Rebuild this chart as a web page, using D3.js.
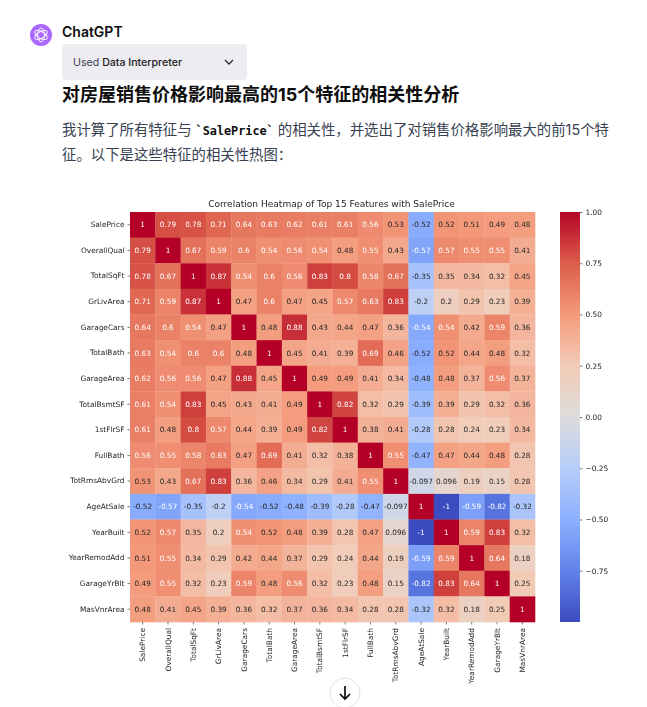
<!DOCTYPE html>
<html>
<head>
<meta charset="utf-8">
<script src="https://cdnjs.cloudflare.com/ajax/libs/d3/7.8.5/d3.min.js"></script>
<style>
html, body { margin: 0; padding: 0; background: #fff; overflow: hidden; }
svg { display: block; }
.mpl text { font-family: "DejaVu Sans", sans-serif; fill: #262626; }
.page { font-family: Inter, "Noto Sans CJK SC", sans-serif; }
</style>
</head>
<body>
<svg id="chart" width="647" height="707"></svg>
<script>
// feature names, same order on both axes
var features = ['SalePrice', 'OverallQual', 'TotalSqFt', 'GrLivArea', 'GarageCars', 'TotalBath', 'GarageArea',
	'TotalBsmtSF', '1stFlrSF', 'FullBath', 'TotRmsAbvGrd', 'AgeAtSale', 'YearBuilt', 'YearRemodAdd', 'GarageYrBlt', 'MasVnrArea'];

var salePrice    = [1, 0.79, 0.78, 0.71, 0.64, 0.63, 0.62, 0.61, 0.61, 0.56, 0.53, -0.52, 0.52, 0.51, 0.49, 0.48];
var overallQual  = [0.79, 1, 0.67, 0.59, 0.6, 0.54, 0.56, 0.54, 0.48, 0.55, 0.43, -0.57, 0.57, 0.55, 0.55, 0.41];
var totalSqFt    = [0.78, 0.67, 1, 0.87, 0.54, 0.6, 0.56, 0.83, 0.8, 0.58, 0.67, -0.35, 0.35, 0.34, 0.32, 0.45];
var grLivArea    = [0.71, 0.59, 0.87, 1, 0.47, 0.6, 0.47, 0.45, 0.57, 0.63, 0.83, -0.2, 0.2, 0.29, 0.23, 0.39];
var garageCars   = [0.64, 0.6, 0.54, 0.47, 1, 0.48, 0.88, 0.43, 0.44, 0.47, 0.36, -0.54, 0.54, 0.42, 0.59, 0.36];
var totalBath    = [0.63, 0.54, 0.6, 0.6, 0.48, 1, 0.45, 0.41, 0.39, 0.69, 0.46, -0.52, 0.52, 0.44, 0.48, 0.32];
var garageArea   = [0.62, 0.56, 0.56, 0.47, 0.88, 0.45, 1, 0.49, 0.49, 0.41, 0.34, -0.48, 0.48, 0.37, 0.56, 0.37];
var totalBsmtSF  = [0.61, 0.54, 0.83, 0.45, 0.43, 0.41, 0.49, 1, 0.82, 0.32, 0.29, -0.39, 0.39, 0.29, 0.32, 0.36];
var firstFlrSF   = [0.61, 0.48, 0.8, 0.57, 0.44, 0.39, 0.49, 0.82, 1, 0.38, 0.41, -0.28, 0.28, 0.24, 0.23, 0.34];
var fullBath     = [0.56, 0.55, 0.58, 0.63, 0.47, 0.69, 0.41, 0.32, 0.38, 1, 0.55, -0.47, 0.47, 0.44, 0.48, 0.28];
var totRmsAbvGrd = [0.53, 0.43, 0.67, 0.83, 0.36, 0.46, 0.34, 0.29, 0.41, 0.55, 1, -0.097, 0.096, 0.19, 0.15, 0.28];
var ageAtSale    = [-0.52, -0.57, -0.35, -0.2, -0.54, -0.52, -0.48, -0.39, -0.28, -0.47, -0.097, 1, -1, -0.59, -0.82, -0.32];
var yearBuilt    = [0.52, 0.57, 0.35, 0.2, 0.54, 0.52, 0.48, 0.39, 0.28, 0.47, 0.096, -1, 1, 0.59, 0.83, 0.32];
var yearRemodAdd = [0.51, 0.55, 0.34, 0.29, 0.42, 0.44, 0.37, 0.29, 0.24, 0.44, 0.19, -0.59, 0.59, 1, 0.64, 0.18];
var garageYrBlt  = [0.49, 0.55, 0.32, 0.23, 0.59, 0.48, 0.56, 0.32, 0.23, 0.48, 0.15, -0.82, 0.83, 0.64, 1, 0.25];
var masVnrArea   = [0.48, 0.41, 0.45, 0.39, 0.36, 0.32, 0.37, 0.36, 0.34, 0.28, 0.28, -0.32, 0.32, 0.18, 0.25, 1];

var rows = [salePrice, overallQual, totalSqFt, grLivArea, garageCars, totalBath, garageArea, totalBsmtSF,
	firstFlrSF, fullBath, totRmsAbvGrd, ageAtSale, yearBuilt, yearRemodAdd, garageYrBlt, masVnrArea];

var colorbarTicks = [1, 0.75, 0.5, 0.25, 0, -0.25, -0.5, -0.75];

var chartTitle = 'Correlation Heatmap of Top 15 Features with SalePrice';
var heading = '对房屋销售价格影响最高的15个特征的相关性分析';

var svg = d3.select('#chart');

// the chart in the reference is a resampled image, so it is slightly soft
svg.append('defs').append('filter')
	.attr('id', 'soft')
	.attr('x', '-5%').attr('y', '-5%').attr('width', '110%').attr('height', '110%')
	.append('feGaussianBlur')
	.attr('stdDeviation', 0.3);

// coolwarm colormap stops
var coolwarm = d3.scaleLinear()
	.domain([-1, -0.75, -0.5, -0.25, 0, 0.25, 0.5, 0.75, 1])
	.range(['#3b4cc0', '#6282ea', '#8db0fe', '#b6cdfa', '#dddcdc', '#f2cbb7', '#f49a7b', '#dc5d4a', '#b40426'])
	.interpolate(d3.interpolateRgb);

var x = d3.scaleBand().domain(features).range([130, 535]);
var y = d3.scaleBand().domain(features).range([212, 622]);
var barY = d3.scaleLinear().domain([-1, 1]).range([622, 212]);

// same rule seaborn uses to pick the annotation colour
function annotColor(v) {
	var c = d3.rgb(coolwarm(v));
	var lin = [c.r, c.g, c.b].map(function(d) {
		d = d / 255;
		return d <= 0.03928 ? d / 12.92 : Math.pow((d + 0.055) / 1.055, 2.4);
	});
	var lum = 0.2126 * lin[0] + 0.7152 * lin[1] + 0.0722 * lin[2];
	return lum < 0.408 ? '#fff' : '#262626';
}

drawPage();
drawHeatmap();
drawColorbar();

function drawHeatmap() {
	var g = svg.append('g').attr('class', 'mpl').attr('filter', 'url(#soft)');

	g.append('text')
		.attr('x', 331.5)
		.attr('y', 207)
		.attr('text-anchor', 'middle')
		.attr('font-size', 9.05)
		.text(chartTitle);

	var cells = [];
	rows.forEach(function(row, i) {
		row.forEach(function(v, j) {
			cells.push({ r: features[i], c: features[j], v: v });
		});
	});

	g.selectAll('rect.cell').data(cells).enter().append('rect')
		.attr('class', 'cell')
		.attr('x', function(d) { return x(d.c); })
		.attr('y', function(d) { return y(d.r); })
		.attr('width', x.bandwidth() + 0.3)
		.attr('height', y.bandwidth() + 0.3)
		.attr('fill', function(d) { return coolwarm(d.v); });

	g.selectAll('text.annot').data(cells).enter().append('text')
		.attr('class', 'annot')
		.attr('x', function(d) { return x(d.c) + x.bandwidth() / 2; })
		.attr('y', function(d) { return y(d.r) + y.bandwidth() / 2; })
		.attr('dy', '0.36em')
		.attr('text-anchor', 'middle')
		.attr('font-size', 7.3)
		.style('fill', function(d) { return annotColor(d.v); })
		.text(function(d) { return String(d.v); });

	var left = g.append('g')
		.attr('transform', 'translate(' + x.range()[0] + ',0)')
		.call(d3.axisLeft(y).tickSize(2.5).tickPadding(3));
	var bottom = g.append('g')
		.attr('transform', 'translate(0,' + y.range()[1] + ')')
		.call(d3.axisBottom(x).tickSize(2.5).tickPadding(2.5));

	left.select('.domain').remove();
	bottom.select('.domain').remove();
	left.selectAll('text').attr('font-size', 7.4).style('font-family', '"DejaVu Sans"');
	bottom.selectAll('text')
		.attr('font-size', 7.4)
		.style('font-family', '"DejaVu Sans"')
		.style('text-anchor', 'end')
		.attr('dy', '0.35em')
		.attr('x', 0)
		.attr('y', 0)
		.attr('transform', 'translate(0,6) rotate(-90)');
	left.selectAll('line').attr('stroke', '#262626').attr('stroke-width', 0.6);
	bottom.selectAll('line').attr('stroke', '#262626').attr('stroke-width', 0.6);
}

function drawColorbar() {
	var g = svg.append('g').attr('class', 'mpl').attr('filter', 'url(#soft)');
	var grad = svg.select('defs').append('linearGradient')
		.attr('id', 'coolwarmGrad')
		.attr('x1', 0).attr('x2', 0).attr('y1', 1).attr('y2', 0);

	coolwarm.domain().forEach(function(v) {
		grad.append('stop')
			.attr('offset', (v + 1) / 2)
			.attr('stop-color', coolwarm(v));
	});

	g.append('rect')
		.attr('x', 560)
		.attr('y', barY(1))
		.attr('width', 20)
		.attr('height', barY(-1) - barY(1))
		.attr('fill', 'url(#coolwarmGrad)');

	var axis = g.append('g')
		.attr('transform', 'translate(580,0)')
		.call(d3.axisRight(barY).tickValues(colorbarTicks).tickSize(2.5).tickPadding(3)
			.tickFormat(function(d) { return d3.format('.2f')(d).replace('-', '\u2212'); }));

	axis.select('.domain').remove();
	axis.selectAll('text').attr('font-size', 7.4).style('font-family', '"DejaVu Sans"');
	axis.selectAll('line').attr('stroke', '#262626').attr('stroke-width', 0.6);
}

function drawPage() {
	var g = svg.append('g').attr('class', 'page');

	// avatar
	g.append('circle').attr('cx', 41).attr('cy', 35).attr('r', 11).attr('fill', '#ab68ff');
	[0, 60, 120].forEach(function(a) {
		g.append('ellipse')
			.attr('cx', 41).attr('cy', 35).attr('rx', 3.4).attr('ry', 7)
			.attr('transform', 'rotate(' + a + ' 41 35)')
			.attr('fill', 'none').attr('stroke', '#fff').attr('stroke-width', 0.9);
	});

	g.append('text').attr('x', 62).attr('y', 37)
		.attr('font-size', 14).attr('font-weight', 600).attr('fill', '#0d0d0d')
		.text('ChatGPT');

	g.append('rect')
		.attr('x', 62).attr('y', 44).attr('width', 185).attr('height', 36).attr('rx', 4)
		.attr('fill', '#ececf1');

	var used = g.append('text').attr('x', 73).attr('y', 66)
		.attr('font-size', 10.6).attr('fill', '#40414f');
	used.append('tspan').text('Used ');
	used.append('tspan').attr('font-weight', 500).attr('fill', '#202123').text('Data Interpreter');

	g.append('path')
		.attr('d', d3.line()([[225, 60], [229, 64], [233, 60]]))
		.attr('fill', 'none').attr('stroke', '#2d2d35').attr('stroke-width', 1.3);

	g.append('text').attr('x', 62).attr('y', 101)
		.attr('font-size', 18).attr('font-weight', 700).attr('fill', '#0d0d0d')
		.text(heading);

	var line1 = g.append('text').attr('x', 62).attr('y', 135)
		.attr('font-size', 14.4).attr('fill', '#374151');
	line1.append('tspan').text('我计算了所有特征与 ');
	line1.append('tspan')
		.style('font-family', '"DejaVu Sans Mono", monospace')
		.attr('font-size', 11.8).attr('font-weight', 700).attr('fill', '#0d0d0d')
		.text('`SalePrice`');
	line1.append('tspan').text(' 的相关性，并选出了对销售价格影响最大的前15个特');

	g.append('text').attr('x', 62).attr('y', 160)
		.attr('font-size', 14.4).attr('fill', '#374151')
		.text('征。以下是这些特征的相关性热图：');

	// scroll button
	g.append('circle').attr('cx', 345).attr('cy', 693).attr('r', 15)
		.attr('fill', '#fff').attr('stroke', '#e3e3e3');
	g.append('path')
		.attr('d', 'M345 686V699M340 694L345 699L350 694')
		.attr('fill', 'none').attr('stroke', '#0d0d0d').attr('stroke-width', 1.7);
}
</script>
</body>
</html>
